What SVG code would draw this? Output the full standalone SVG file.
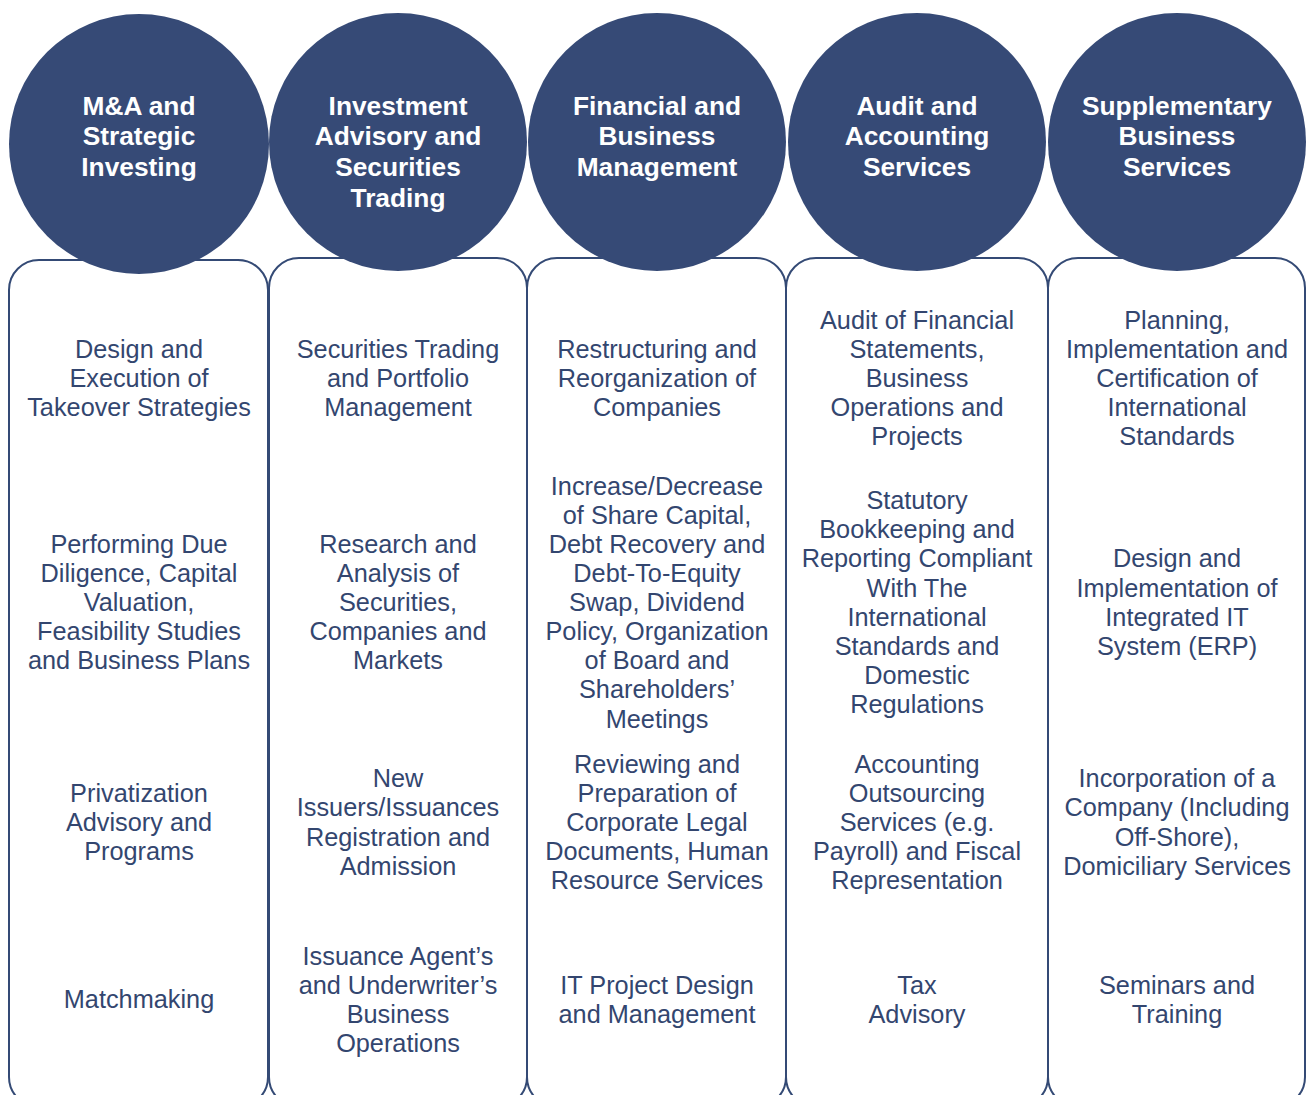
<svg xmlns="http://www.w3.org/2000/svg" width="1306" height="1095" viewBox="0 0 1306 1095">
<style>
.box{fill:#ffffff;stroke:#344A75;stroke-width:2}
.circ{fill:#364A76}
.hd{font-family:"Liberation Sans",Arial,sans-serif;font-weight:bold;font-size:26.3px;fill:#ffffff;text-anchor:middle}
.bd{font-family:"Liberation Sans",Arial,sans-serif;font-size:25.3px;fill:#33466F;text-anchor:middle}
</style>
<rect width="1306" height="1095" fill="#ffffff"/>
<g id="connectors"></g>
<g id="col1">
<rect class="box" x="9" y="260" width="259" height="847" rx="30"/>
<circle class="circ" cx="139" cy="144" r="130"/>
<text class="hd"><tspan x="139" y="115">M&amp;A and</tspan><tspan x="139" y="145">Strategic</tspan><tspan x="139" y="176">Investing</tspan></text>
<text class="bd"><tspan x="139" y="358">Design and</tspan><tspan x="139" y="387">Execution of</tspan><tspan x="139" y="416">Takeover Strategies</tspan></text>
<text class="bd"><tspan x="139" y="553">Performing Due</tspan><tspan x="139" y="582">Diligence, Capital</tspan><tspan x="139" y="611">Valuation,</tspan><tspan x="139" y="640">Feasibility Studies</tspan><tspan x="139" y="669">and Business Plans</tspan></text>
<text class="bd"><tspan x="139" y="802">Privatization</tspan><tspan x="139" y="831">Advisory and</tspan><tspan x="139" y="860">Programs</tspan></text>
<text class="bd"><tspan x="139" y="1008">Matchmaking</tspan></text>
</g>
<g id="col2">
<rect class="box" x="269" y="258" width="258" height="849" rx="30"/>
<circle class="circ" cx="398" cy="142" r="129"/>
<text class="hd"><tspan x="398" y="115">Investment</tspan><tspan x="398" y="145">Advisory and</tspan><tspan x="398" y="176">Securities</tspan><tspan x="398" y="207">Trading</tspan></text>
<text class="bd"><tspan x="398" y="358">Securities Trading</tspan><tspan x="398" y="387">and Portfolio</tspan><tspan x="398" y="416">Management</tspan></text>
<text class="bd"><tspan x="398" y="553">Research and</tspan><tspan x="398" y="582">Analysis of</tspan><tspan x="398" y="611">Securities,</tspan><tspan x="398" y="640">Companies and</tspan><tspan x="398" y="669">Markets</tspan></text>
<text class="bd"><tspan x="398" y="787">New</tspan><tspan x="398" y="816">Issuers/Issuances</tspan><tspan x="398" y="846">Registration and</tspan><tspan x="398" y="875">Admission</tspan></text>
<text class="bd"><tspan x="398" y="965">Issuance Agent’s</tspan><tspan x="398" y="994">and Underwriter’s</tspan><tspan x="398" y="1023">Business</tspan><tspan x="398" y="1052">Operations</tspan></text>
</g>
<g id="col3">
<rect class="box" x="527" y="258" width="259" height="849" rx="30"/>
<circle class="circ" cx="657" cy="142" r="129"/>
<text class="hd"><tspan x="657" y="115">Financial and</tspan><tspan x="657" y="145">Business</tspan><tspan x="657" y="176">Management</tspan></text>
<text class="bd"><tspan x="657" y="358">Restructuring and</tspan><tspan x="657" y="387">Reorganization of</tspan><tspan x="657" y="416">Companies</tspan></text>
<text class="bd"><tspan x="657" y="495">Increase/Decrease</tspan><tspan x="657" y="524">of Share Capital,</tspan><tspan x="657" y="553">Debt Recovery and</tspan><tspan x="657" y="582">Debt-To-Equity</tspan><tspan x="657" y="611">Swap, Dividend</tspan><tspan x="657" y="640">Policy, Organization</tspan><tspan x="657" y="669">of Board and</tspan><tspan x="657" y="698">Shareholders’</tspan><tspan x="657" y="728">Meetings</tspan></text>
<text class="bd"><tspan x="657" y="773">Reviewing and</tspan><tspan x="657" y="802">Preparation of</tspan><tspan x="657" y="831">Corporate Legal</tspan><tspan x="657" y="860">Documents, Human</tspan><tspan x="657" y="889">Resource Services</tspan></text>
<text class="bd"><tspan x="657" y="994">IT Project Design</tspan><tspan x="657" y="1023">and Management</tspan></text>
</g>
<g id="col4">
<rect class="box" x="786" y="258" width="262" height="849" rx="30"/>
<circle class="circ" cx="917" cy="142" r="129"/>
<text class="hd"><tspan x="917" y="115">Audit and</tspan><tspan x="917" y="145">Accounting</tspan><tspan x="917" y="176">Services</tspan></text>
<text class="bd"><tspan x="917" y="329">Audit of Financial</tspan><tspan x="917" y="358">Statements,</tspan><tspan x="917" y="387">Business</tspan><tspan x="917" y="416">Operations and</tspan><tspan x="917" y="445">Projects</tspan></text>
<text class="bd"><tspan x="917" y="509">Statutory</tspan><tspan x="917" y="538">Bookkeeping and</tspan><tspan x="917" y="567">Reporting Compliant</tspan><tspan x="917" y="597">With The</tspan><tspan x="917" y="626">International</tspan><tspan x="917" y="655">Standards and</tspan><tspan x="917" y="684">Domestic</tspan><tspan x="917" y="713">Regulations</tspan></text>
<text class="bd"><tspan x="917" y="773">Accounting</tspan><tspan x="917" y="802">Outsourcing</tspan><tspan x="917" y="831">Services (e.g.</tspan><tspan x="917" y="860">Payroll) and Fiscal</tspan><tspan x="917" y="889">Representation</tspan></text>
<text class="bd"><tspan x="917" y="994">Tax</tspan><tspan x="917" y="1023">Advisory</tspan></text>
</g>
<g id="col5">
<rect class="box" x="1048" y="258" width="257" height="849" rx="30"/>
<circle class="circ" cx="1177" cy="142" r="129"/>
<text class="hd"><tspan x="1177" y="115">Supplementary</tspan><tspan x="1177" y="145">Business</tspan><tspan x="1177" y="176">Services</tspan></text>
<text class="bd"><tspan x="1177" y="329">Planning,</tspan><tspan x="1177" y="358">Implementation and</tspan><tspan x="1177" y="387">Certification of</tspan><tspan x="1177" y="416">International</tspan><tspan x="1177" y="445">Standards</tspan></text>
<text class="bd"><tspan x="1177" y="567">Design and</tspan><tspan x="1177" y="597">Implementation of</tspan><tspan x="1177" y="626">Integrated IT</tspan><tspan x="1177" y="655">System (ERP)</tspan></text>
<text class="bd"><tspan x="1177" y="787">Incorporation of a</tspan><tspan x="1177" y="816">Company (Including</tspan><tspan x="1177" y="846">Off-Shore),</tspan><tspan x="1177" y="875">Domiciliary Services</tspan></text>
<text class="bd"><tspan x="1177" y="994">Seminars and</tspan><tspan x="1177" y="1023">Training</tspan></text>
</g>
</svg>
